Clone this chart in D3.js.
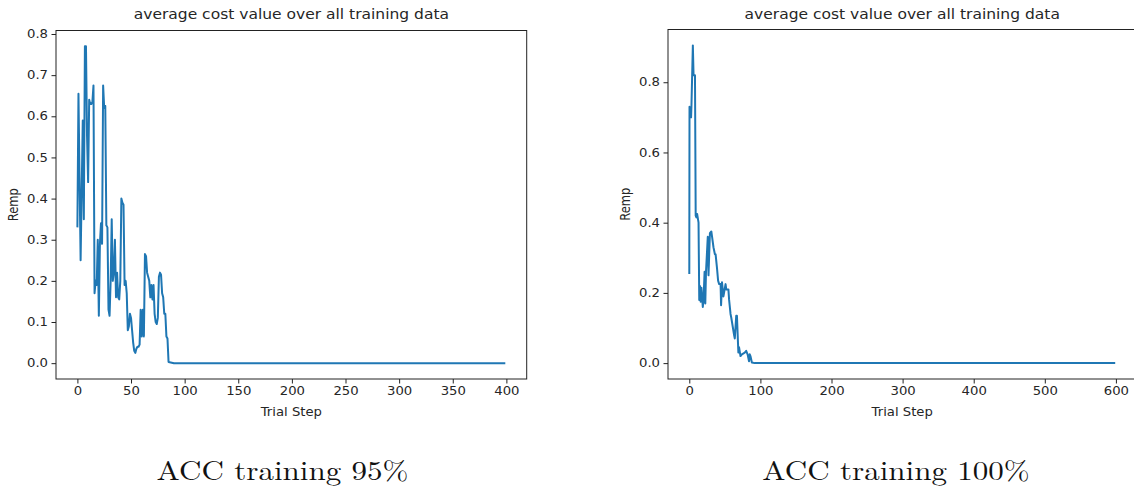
<!DOCTYPE html>
<html>
<head>
<meta charset="utf-8">
<script src="https://cdn.jsdelivr.net/npm/d3@7"></script>
<style>
  html, body { margin: 0; padding: 0; background: #fff; }
  text { font-family: "DejaVu Sans", sans-serif; fill: #262626; }
  .caption { font-family: "Latin Modern Roman", "CMU Serif", "DejaVu Serif", serif; fill: #111; }
</style>
</head>
<body>
<div id="chart"></div>
<script>
// left run: Remp per trial step (400 steps)
const leftSteps = [0, 1, 2, 3, 4, 5, 6, 7, 8, 9, 10, 11, 12, 13, 14, 15, 16, 17, 18, 19,
  20, 21, 22, 23, 24, 25, 26, 27, 28, 29, 30, 31, 32, 33, 34, 35, 36, 37, 38, 39,
  40, 41, 42, 43, 44, 45, 46, 47, 48, 49, 50, 51, 52, 53, 54, 55, 56, 57, 58, 59,
  60, 61, 62, 63, 64, 65, 66, 67, 68, 69, 70, 71, 72, 73, 74, 75, 76, 77, 78, 79,
  80, 81, 82, 83, 84, 85, 90, 399];
const leftRemp = [0.33, 0.655, 0.45, 0.25, 0.42, 0.59, 0.35, 0.77, 0.77, 0.55,
  0.44, 0.64, 0.63, 0.63, 0.635, 0.675, 0.17, 0.2, 0.19, 0.3,
  0.115, 0.29, 0.34, 0.29, 0.675, 0.62, 0.625, 0.335, 0.33, 0.13,
  0.115, 0.2, 0.35, 0.2, 0.22, 0.3, 0.16, 0.22, 0.16, 0.155,
  0.2, 0.4, 0.39, 0.385, 0.19, 0.2, 0.17, 0.08, 0.09, 0.12,
  0.11, 0.08, 0.05, 0.03, 0.025, 0.035, 0.04, 0.04, 0.045, 0.13,
  0.065, 0.13, 0.065, 0.265, 0.26, 0.22, 0.21, 0.2, 0.16, 0.19,
  0.155, 0.19, 0.12, 0.1, 0.095, 0.11, 0.21, 0.22, 0.215, 0.17,
  0.16, 0.12, 0.12, 0.065, 0.06, 0.003, 0.0, 0.0];

// right run: 600 steps
const rightSteps = [0, 0.3, 2, 2.5, 3, 5, 6, 8, 9, 10, 11, 13, 14, 15, 16, 17, 19, 20,
  21.5, 22.5, 23.5, 26, 27, 29, 31, 32, 34, 36, 37, 39, 40.5, 42, 44, 44.7, 46, 48,
  51, 52, 55, 56, 58, 59, 63, 64, 66, 67, 69, 70, 72, 74, 78, 80, 82, 84, 85, 86,
  88, 92, 599];
const rightRemp = [0.254, 0.73, 0.72, 0.7, 0.73, 0.905, 0.82, 0.82, 0.42, 0.415,
  0.425, 0.4, 0.18, 0.22, 0.175, 0.215, 0.16, 0.18, 0.26, 0.17,
  0.26, 0.36, 0.25, 0.37, 0.375, 0.36, 0.33, 0.31, 0.31, 0.27,
  0.235, 0.225, 0.225, 0.165, 0.23, 0.19, 0.225, 0.21, 0.21, 0.18,
  0.14, 0.13, 0.08, 0.07, 0.135, 0.135, 0.03, 0.045, 0.02, 0.025,
  0.03, 0.035, 0.025, 0.005, 0.025, 0.02, 0.002, 0.0, 0.0];

const leftXTicks = [0, 50, 100, 150, 200, 250, 300, 350, 400];
const leftYTicks = [0.0, 0.1, 0.2, 0.3, 0.4, 0.5, 0.6, 0.7, 0.8];
const rightXTicks = [0, 100, 200, 300, 400, 500, 600];
const rightYTicks = [0.0, 0.2, 0.4, 0.6, 0.8];

const titleText = 'average cost value over all training data';
const xLabel = 'Trial Step';
const yLabel = 'Remp';
const captions = ['ACC training 95%', 'ACC training 100%'];

const width = 1134, height = 494;
// the source figure was stretched sideways, text included
const sx = 1.15;

const svg = d3.select('#chart').append('svg')
  .attr('width', width)
  .attr('height', height);

svg.append('rect').attr('width', width).attr('height', height).attr('fill', '#fff');

function label(g, x, y, size, str, rot) {
  return g.append('text')
    .attr('transform', `translate(${x},${y})` + (rot ? ` rotate(${rot})` : '') + (rot ? ` scale(1,${sx})` : ` scale(${sx},1)`))
    .attr('text-anchor', 'middle')
    .attr('font-size', size)
    .text(str);
}

function panel(id, box, steps, remp, xTicks, yTicks, caption) {
  const last = steps[steps.length - 1];
  const maxV = d3.max(remp);
  // matplotlib-style 5% margins
  const xs = d3.scaleLinear().domain([-last * 0.05, last * 1.05]).range([box.x0, box.x1]);
  const ys = d3.scaleLinear().domain([-maxV * 0.05, maxV * 1.05]).range([box.y1, box.y0]);

  const g = svg.append('g');

  g.append('clipPath').attr('id', 'clip' + id)
    .append('rect')
    .attr('x', box.x0).attr('y', box.y0)
    .attr('width', box.x1 - box.x0).attr('height', box.y1 - box.y0);

  const pts = steps.map((s, i) => [s, remp[i]]);
  g.append('path')
    .datum(pts)
    .attr('clip-path', `url(#clip${id})`)
    .attr('fill', 'none')
    .attr('stroke', '#1f77b4')
    .attr('stroke-width', 2)
    .attr('stroke-linejoin', 'round')
    .attr('d', d3.line().x(d => xs(d[0])).y(d => ys(d[1])));

  const xAxis = g.append('g')
    .attr('transform', `translate(0,${box.y1})`)
    .call(d3.axisBottom(xs).tickValues(xTicks).tickSize(4.5).tickPadding(3.5).tickFormat(d3.format('d')));
  const yAxis = g.append('g')
    .attr('transform', `translate(${box.x0},0)`)
    .call(d3.axisLeft(ys).tickValues(yTicks).tickSize(4.5).tickPadding(3.5).tickFormat(d3.format('.1f')));

  [xAxis, yAxis].forEach(a => {
    a.select('.domain').remove();
    a.selectAll('line').attr('stroke', '#222').attr('stroke-width', 1);
    a.selectAll('text')
      .attr('font-size', 11.5)
      .attr('font-family', '"DejaVu Sans", sans-serif')
      .attr('fill', '#262626')
      .attr('x', function () { return (+d3.select(this).attr('x') || 0) / sx; })
      .attr('transform', `scale(${sx},1)`);
  });

  g.append('rect')
    .attr('x', box.x0).attr('y', box.y0)
    .attr('width', box.x1 - box.x0).attr('height', box.y1 - box.y0)
    .attr('fill', 'none').attr('stroke', '#222').attr('stroke-width', 1);

  const cx = (box.x0 + box.x1) / 2;
  label(g, cx, 19, 13.5, titleText);
  label(g, cx, 416, 11.5, xLabel);
  label(g, box.yLabelX, (box.y0 + box.y1) / 2, 11.5, yLabel, -90);
  label(g, box.capX, 479.5, 27, caption).attr('class', 'caption');
}

panel('L', { x0: 56, x1: 526.7, y0: 30.5, y1: 379, yLabelX: 18, capX: 282.5 },
  leftSteps, leftRemp, leftXTicks, leftYTicks, captions[0]);
panel('R', { x0: 668, x1: 1136.5, y0: 29.5, y1: 379, yLabelX: 630, capX: 896 },
  rightSteps, rightRemp, rightXTicks, rightYTicks, captions[1]);
</script>
</body>
</html>
